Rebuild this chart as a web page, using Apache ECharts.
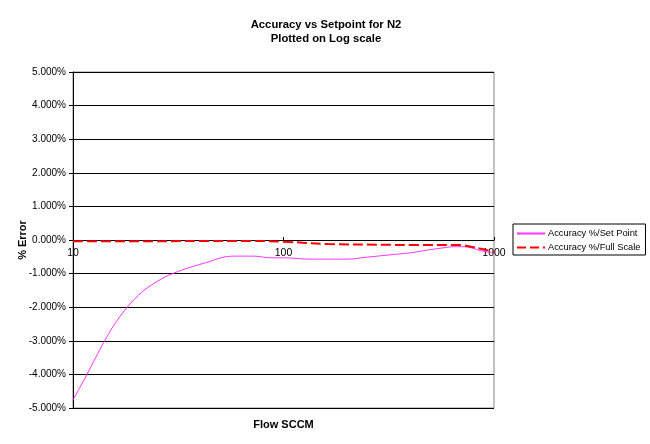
<!DOCTYPE html>
<html>
<head>
<meta charset="utf-8">
<script src="https://cdn.jsdelivr.net/npm/echarts@6/dist/echarts.min.js"></script>
<style>html,body{margin:0;padding:0;background:#fff;}#c{width:650px;height:444px;}</style>
</head>
<body>
<div id="c"></div>
<script>
var titleText = 'Accuracy vs Setpoint for N2\nPlotted on Log scale';
var xName = 'Flow SCCM';
var yName = '% Error';
var seriesNames = ['Accuracy %/Set Point', 'Accuracy %/Full Scale'];

var spFlow = [10, 11.6, 14.2, 16.7, 20.5, 25, 30, 42, 58, 72, 87, 100, 134, 200, 250, 334, 403, 483, 580, 645, 720, 867, 1000];
var spErr  = [-4.76, -4.02, -2.98, -2.28, -1.64, -1.24, -0.99, -0.69, -0.48, -0.48, -0.53, -0.53, -0.57, -0.57, -0.51, -0.43, -0.38, -0.30, -0.23, -0.20, -0.20, -0.32, -0.39];

var fsFlow = [10, 20, 40, 70, 100, 162, 300, 403, 697, 777, 896, 1000];
var fsErr  = [-0.04, -0.04, -0.03, -0.03, -0.05, -0.12, -0.14, -0.15, -0.15, -0.20, -0.28, -0.35];

var yTicks = { min: -5, max: 5, interval: 1 };

function pairs(xs, ys) { return xs.map(function (x, i) { return [x, ys[i]]; }); }

var FONT = 'Liberation Sans, Arial, sans-serif';
var GRID_H = 336;
var chart = echarts.init(document.getElementById('c'));
chart.setOption({
  backgroundColor: '#fff',
  animation: false,
  title: {
    text: titleText,
    left: 321, top: 13, textAlign: 'center',
    textStyle: { fontFamily: FONT, fontSize: 11.3, fontWeight: 'bold', color: '#000', lineHeight: 14 }
  },
  grid: { left: 73, right: 156, top: 72, height: GRID_H, containLabel: false, outerBoundsMode: 'none',
    show: true, borderColor: '#888', borderWidth: 1, backgroundColor: '#fff' },
  legend: {
    orient: 'vertical', left: 513, top: 224,
    padding: [4, 5, 2, 4],
    itemWidth: 28, itemHeight: 2, itemGap: 3,
    symbolKeepAspect: false,
    borderColor: '#000', borderWidth: 1,
    textStyle: { fontFamily: FONT, fontSize: 9.3, color: '#000', padding: [0, 0, 0, -2], lineHeight: 11 },
    data: [
      { name: seriesNames[0], icon: 'path://M0,0h28v1h-28z', itemStyle: { color: '#ff33ff' } },
      { name: seriesNames[1], icon: 'path://M0,0h9v2h-9z M13,0h9v2h-9z M26,0h2v2h-2z', itemStyle: { color: '#ff0000' } }
    ]
  },
  xAxis: {
    type: 'log', logBase: 10, min: 10, max: 1000,
    position: 'bottom', offset: -GRID_H * (0 - yTicks.min) / (yTicks.max - yTicks.min),
    name: xName, nameLocation: 'middle', nameGap: 179, nameMoveOverlap: false,
    nameTextStyle: { fontFamily: FONT, fontSize: 11, fontWeight: 'bold', color: '#000' },
    axisLine: { onZero: false, lineStyle: { color: '#000', width: 1 } },
    axisTick: { show: true, inside: true, length: 3, lineStyle: { color: '#000' } },
    axisLabel: { fontFamily: FONT, fontSize: 10.5, color: '#000', margin: 8,
      formatter: function (v) { return String(Math.round(v)); } },
    splitLine: { show: false },
    minorTick: { show: false }
  },
  yAxis: {
    type: 'value', min: yTicks.min, max: yTicks.max, interval: yTicks.interval,
    name: yName, nameLocation: 'middle', nameGap: 45, nameRotate: 90, nameMoveOverlap: false,
    nameTextStyle: { fontFamily: FONT, fontSize: 11, fontWeight: 'bold', color: '#000' },
    axisLine: { show: true, lineStyle: { color: '#000', width: 1 } },
    axisTick: { show: true, length: 4, lineStyle: { color: '#000' } },
    axisLabel: { fontFamily: FONT, fontSize: 10, color: '#000', margin: 7,
      formatter: function (v) { return v.toFixed(3) + '%'; } },
    splitLine: { show: true, lineStyle: { color: '#000', width: 1 } }
  },
  series: [
    {
      name: seriesNames[0], type: 'line', data: pairs(spFlow, spErr),
      smooth: 0.4, showSymbol: false, symbol: 'none',
      lineStyle: { color: '#ff33ff', width: 1 }, itemStyle: { color: '#ff33ff' }
    },
    {
      name: seriesNames[1], type: 'line', data: pairs(fsFlow, fsErr),
      smooth: 0.4, showSymbol: false, symbol: 'none',
      lineStyle: { color: '#ff0000', width: 2, type: [10, 4] }, itemStyle: { color: '#ff0000' }
    }
  ]
});
</script>
</body>
</html>
